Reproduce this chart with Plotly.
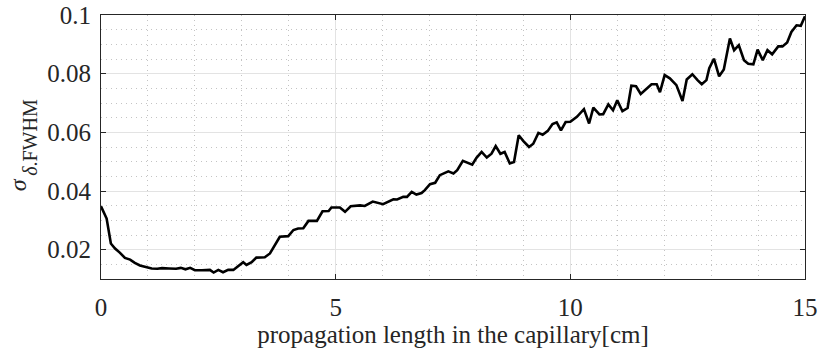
import plotly.graph_objects as go

# propagation length [cm]
length_cm = [
    0.00, 0.12, 0.21, 0.30, 0.40, 0.51, 0.62, 0.72, 0.83, 0.94,
    1.08, 1.20, 1.30, 1.45, 1.60, 1.70, 1.80, 1.90, 2.00, 2.15,
    2.32, 2.40, 2.50, 2.60, 2.71, 2.82, 2.93, 3.03, 3.10, 3.21,
    3.31, 3.49, 3.60, 3.70, 3.81, 3.99, 4.10, 4.20, 4.31, 4.42,
    4.60, 4.72, 4.85, 4.91, 5.09, 5.20, 5.32, 5.52, 5.62, 5.79,
    6.01, 6.23, 6.31, 6.44, 6.52, 6.62, 6.72, 6.83, 6.90, 7.01,
    7.12, 7.22, 7.40, 7.51, 7.59, 7.71, 7.79, 7.91, 8.00, 8.11,
    8.22, 8.32, 8.41, 8.51, 8.60, 8.71, 8.80, 8.90, 9.00, 9.12,
    9.21, 9.32, 9.41, 9.52, 9.62, 9.71, 9.80, 9.90, 10.00, 10.14,
    10.29, 10.40, 10.49, 10.62, 10.70, 10.81, 10.91, 11.00, 11.11, 11.22,
    11.30, 11.40, 11.50, 11.61, 11.73, 11.84, 11.91, 12.01, 12.12, 12.26,
    12.39, 12.48, 12.60, 12.71, 12.80, 12.90, 12.96, 13.06, 13.17, 13.27,
    13.40, 13.49, 13.59, 13.70, 13.79, 13.90, 13.99, 14.10, 14.20, 14.30,
    14.43, 14.52, 14.62, 14.71, 14.82, 14.91, 15.00,
]

# relative energy spread (FWHM)
sigma_fwhm = [
    0.0348, 0.0306, 0.0221, 0.0204, 0.0190, 0.0172, 0.0166, 0.0155, 0.0146, 0.0141,
    0.0136, 0.0135, 0.0137, 0.0136, 0.0135, 0.0138, 0.0133, 0.0138, 0.0130, 0.0130,
    0.0131, 0.0122, 0.0131, 0.0123, 0.0131, 0.0131, 0.0145, 0.0157, 0.0148, 0.0157,
    0.0173, 0.0174, 0.0187, 0.0215, 0.0244, 0.0246, 0.0267, 0.0272, 0.0273, 0.0298,
    0.0298, 0.0331, 0.0332, 0.0344, 0.0344, 0.0329, 0.0348, 0.0351, 0.0349, 0.0364,
    0.0355, 0.0372, 0.0371, 0.0380, 0.0380, 0.0397, 0.0388, 0.0393, 0.0403, 0.0423,
    0.0428, 0.0454, 0.0467, 0.0460, 0.0471, 0.0503, 0.0498, 0.0490, 0.0513, 0.0533,
    0.0514, 0.0527, 0.0553, 0.0527, 0.0533, 0.0494, 0.0499, 0.0590, 0.0570, 0.0550,
    0.0561, 0.0598, 0.0592, 0.0605, 0.0628, 0.0634, 0.0607, 0.0635, 0.0636, 0.0653,
    0.0679, 0.0630, 0.0684, 0.0661, 0.0662, 0.0695, 0.0675, 0.0709, 0.0672, 0.0683,
    0.0759, 0.0757, 0.0731, 0.0747, 0.0764, 0.0764, 0.0737, 0.0795, 0.0784, 0.0761,
    0.0707, 0.0780, 0.0798, 0.0778, 0.0764, 0.0778, 0.0819, 0.0851, 0.0791, 0.0814,
    0.0920, 0.0880, 0.0897, 0.0846, 0.0834, 0.0832, 0.0882, 0.0846, 0.0880, 0.0866,
    0.0893, 0.0893, 0.0906, 0.0942, 0.0965, 0.0963, 0.0996,
]

x_ticks = [0, 5, 10, 15]
y_ticks = [0.02, 0.04, 0.06, 0.08, 0.1]
y_tick_text = ["0.02", "0.04", "0.06", "0.08", "0.1"]

FONT = "Liberation Serif"
TEXT_COLOR = "#262626"
AXIS_COLOR = "#262626"
MINOR_GRID = dict(showgrid=True, gridcolor="#c4c4c4", griddash="1px,4px",
                  gridwidth=1, ticks="")

fig = go.Figure()
fig.add_trace(go.Scatter(
    x=length_cm, y=sigma_fwhm, mode="lines",
    line=dict(color="black", width=2.6),
    showlegend=False,
))

axis_common = dict(
    showline=True, linecolor=AXIS_COLOR, linewidth=1, mirror="ticks",
    ticks="inside", ticklen=5, tickcolor=AXIS_COLOR, tickwidth=1,
    showgrid=True, gridcolor="#e3e3e3", gridwidth=1,
    zeroline=False, automargin=False,
    tickfont=dict(family=FONT, size=25, color=TEXT_COLOR),
)

fig.update_xaxes(
    range=[0, 15], tickvals=x_ticks, ticktext=[str(v) for v in x_ticks],
    minor=dict(dtick=1, tick0=0, **MINOR_GRID),
    ticklabelstandoff=6,
    title=dict(text="propagation length in the capillary[cm]",
               font=dict(family=FONT, size=25, color=TEXT_COLOR), standoff=5),
    **axis_common,
)
fig.update_yaxes(
    range=[0.01, 0.1], tickvals=y_ticks, ticktext=y_tick_text,
    minor=dict(dtick=0.005, tick0=0, **MINOR_GRID),
    ticklabelstandoff=4,
    **axis_common,
)

# y-axis label: sigma with its subscript
fig.add_annotation(
    text="<i>σ</i>", font=dict(family=FONT, size=24, color=TEXT_COLOR),
    textangle=-90, xref="paper", yref="paper",
    x=(18 - 101) / 704, y=(278.7 - 185) / 264,
    xanchor="center", yanchor="middle", showarrow=False,
)
fig.add_annotation(
    text="<i>δ</i>.FWHM", font=dict(family=FONT, size=20, color=TEXT_COLOR),
    textangle=-90, xref="paper", yref="paper",
    x=(30 - 101) / 704, y=(278.7 - 137.5) / 264,
    xanchor="center", yanchor="middle", showarrow=False,
)

fig.update_layout(
    width=818, height=354,
    margin=dict(l=101, r=13, t=15, b=75),
    plot_bgcolor="white", paper_bgcolor="white",
)

fig.write_html("out.html")
